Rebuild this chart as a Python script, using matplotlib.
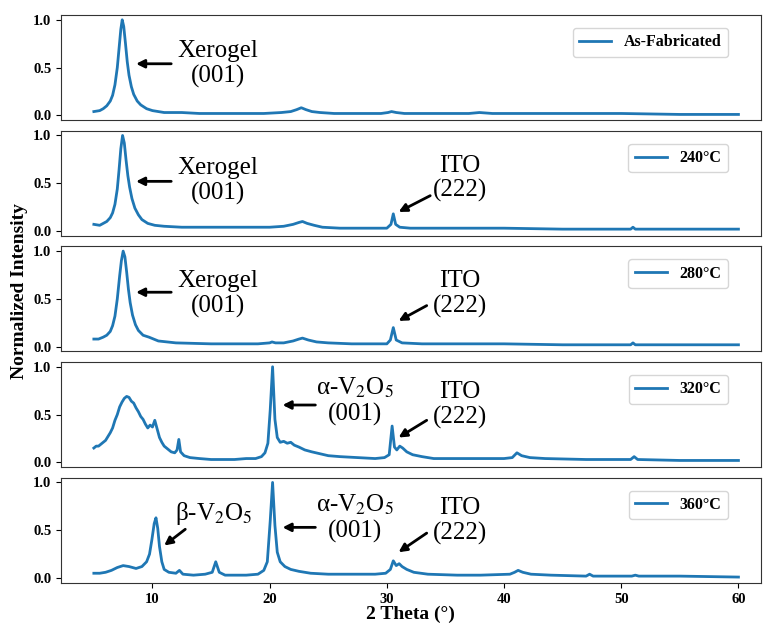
import matplotlib
matplotlib.use("Agg")
import matplotlib.pyplot as plt

plt.rcParams["font.family"] = ["Liberation Serif", "DejaVu Serif"]
plt.rcParams["mathtext.fontset"] = "stix"

# XRD patterns (2-theta in degrees, normalized intensity)
asfab_x = [5.0, 5.5, 5.8, 6.1, 6.4, 6.6, 6.8, 7.0, 7.15, 7.3, 7.42, 7.55, 7.7, 7.85, 8.0, 8.2, 8.4,
           8.7, 9.0, 9.5, 10.0, 11.0, 12.5, 14.0, 16.0, 18.0, 19.5, 21.0, 21.8, 22.3, 22.7, 23.1,
           23.6, 24.3, 25.5, 27.0, 29.5, 30.1, 30.4, 30.8, 31.5, 33.0, 35.0, 37.0, 37.9, 39.0,
           42.0, 46.0, 50.0, 55.0, 60.0]
asfab_y = [0.04, 0.05, 0.07, 0.10, 0.15, 0.21, 0.32, 0.50, 0.70, 0.90, 1.00, 0.93, 0.75, 0.56,
           0.42, 0.30, 0.22, 0.15, 0.11, 0.07, 0.05, 0.03, 0.03, 0.02, 0.02, 0.02, 0.02, 0.03,
           0.04, 0.06, 0.08, 0.06, 0.04, 0.03, 0.02, 0.02, 0.02, 0.03, 0.04, 0.03, 0.02, 0.02,
           0.02, 0.02, 0.03, 0.02, 0.02, 0.02, 0.02, 0.01, 0.01]

t240_x = [5.0, 5.5, 5.8, 6.1, 6.4, 6.6, 6.8, 7.0, 7.15, 7.3, 7.45, 7.6, 7.75, 7.9, 8.05, 8.25,
          8.5, 8.8, 9.1, 9.6, 10.2, 11.0, 12.5, 14.0, 16.0, 18.0, 20.0, 21.2, 22.0, 22.5, 22.8,
          23.2, 23.8, 24.5, 26.0, 28.0, 30.0, 30.35, 30.55, 30.75, 31.1, 32.0, 35.0, 38.0, 40.0,
          45.0, 50.8, 51.0, 51.2, 55.0, 60.0]
t240_y = [0.07, 0.06, 0.08, 0.10, 0.14, 0.19, 0.28, 0.44, 0.64, 0.86, 1.00, 0.92, 0.74, 0.58,
          0.46, 0.34, 0.24, 0.17, 0.12, 0.08, 0.06, 0.05, 0.04, 0.04, 0.04, 0.04, 0.04, 0.05,
          0.07, 0.09, 0.10, 0.08, 0.06, 0.04, 0.03, 0.03, 0.03, 0.07, 0.18, 0.07, 0.04, 0.03,
          0.03, 0.03, 0.03, 0.02, 0.02, 0.04, 0.02, 0.02, 0.02]

t280_x = [5.0, 5.4, 5.8, 6.1, 6.4, 6.6, 6.8, 7.0, 7.2, 7.35, 7.5, 7.65, 7.8, 7.95, 8.1, 8.3,
          8.55, 8.8, 9.2, 9.7, 10.5, 12.0, 15.0, 19.0, 20.0, 20.2, 20.5, 21.2, 22.0, 22.5, 22.8,
          23.3, 24.0, 25.0, 27.0, 30.0, 30.3, 30.55, 30.8, 31.3, 33.0, 36.0, 40.0, 45.0, 50.8,
          51.0, 51.2, 55.0, 60.0]
t280_y = [0.08, 0.08, 0.10, 0.12, 0.16, 0.22, 0.32, 0.50, 0.74, 0.90, 1.00, 0.94, 0.78, 0.60,
          0.46, 0.33, 0.23, 0.17, 0.12, 0.10, 0.06, 0.04, 0.03, 0.03, 0.04, 0.05, 0.04, 0.04,
          0.06, 0.08, 0.09, 0.07, 0.05, 0.04, 0.03, 0.03, 0.07, 0.20, 0.07, 0.04, 0.03, 0.03,
          0.03, 0.02, 0.02, 0.04, 0.02, 0.02, 0.02]

t320_x = [5.0, 5.2, 5.4, 5.6, 5.8, 6.0, 6.2, 6.4, 6.6, 6.8, 7.0, 7.2, 7.4, 7.6, 7.8, 8.0, 8.2,
          8.4, 8.6, 8.8, 9.0, 9.2, 9.4, 9.6, 9.8, 10.0, 10.2, 10.4, 10.6, 10.8, 11.0, 11.3, 11.6,
          11.9, 12.1, 12.25, 12.4, 12.7, 13.2, 14.0, 15.0, 16.0, 17.0, 18.0, 18.8, 19.3, 19.6,
          19.85, 20.05, 20.25, 20.45, 20.65, 20.9, 21.2, 21.5, 21.8, 22.1, 22.5, 23.0, 23.6, 24.3,
          25.0, 26.0, 27.5, 29.0, 29.8, 30.2, 30.45, 30.65, 30.85, 31.1, 31.35, 31.7, 32.2, 33.0,
          34.0, 36.0, 38.0, 40.0, 40.7, 41.1, 41.5, 42.2, 43.5, 47.0, 50.8, 51.1, 51.4, 55.0, 60.0]
t320_y = [0.15, 0.17, 0.17, 0.19, 0.21, 0.23, 0.27, 0.31, 0.36, 0.44, 0.50, 0.58, 0.63, 0.67,
          0.69, 0.68, 0.64, 0.62, 0.57, 0.53, 0.48, 0.45, 0.40, 0.36, 0.39, 0.37, 0.44, 0.35, 0.26,
          0.21, 0.17, 0.14, 0.11, 0.10, 0.13, 0.24, 0.11, 0.07, 0.05, 0.04, 0.03, 0.03, 0.03, 0.04,
          0.04, 0.06, 0.10, 0.20, 0.55, 1.00, 0.45, 0.26, 0.21, 0.22, 0.20, 0.21, 0.18, 0.16, 0.13,
          0.11, 0.09, 0.07, 0.06, 0.05, 0.04, 0.05, 0.08, 0.38, 0.16, 0.13, 0.17, 0.15, 0.11, 0.08,
          0.06, 0.04, 0.04, 0.04, 0.04, 0.05, 0.10, 0.07, 0.05, 0.04, 0.03, 0.03, 0.06, 0.03, 0.02,
          0.02]

t360_x = [5.0, 5.5, 6.0, 6.5, 7.0, 7.5, 8.0, 8.6, 9.1, 9.5, 9.75, 9.95, 10.15, 10.3, 10.45,
          10.6, 10.8, 11.0, 11.4, 12.0, 12.3, 12.6, 13.5, 14.5, 15.1, 15.4, 15.7, 16.2, 17.0, 18.0,
          19.0, 19.5, 19.8, 20.05, 20.25, 20.45, 20.65, 20.9, 21.3, 21.8, 22.5, 23.5, 25.0, 27.0,
          29.0, 29.9, 30.3, 30.55, 30.8, 31.05, 31.3, 31.7, 32.3, 33.5, 36.0, 38.0, 40.5, 40.9,
          41.2, 41.6, 42.3, 44.0, 47.0, 47.3, 47.6, 50.9, 51.2, 51.5, 55.0, 60.0]
t360_y = [0.05, 0.05, 0.06, 0.08, 0.11, 0.13, 0.12, 0.10, 0.12, 0.17, 0.25, 0.40, 0.57, 0.63,
          0.52, 0.33, 0.17, 0.09, 0.06, 0.05, 0.08, 0.04, 0.03, 0.04, 0.06, 0.17, 0.06, 0.03, 0.03,
          0.03, 0.04, 0.08, 0.17, 0.60, 1.00, 0.55, 0.27, 0.17, 0.12, 0.09, 0.07, 0.05, 0.04, 0.04,
          0.04, 0.05, 0.09, 0.18, 0.13, 0.15, 0.12, 0.09, 0.06, 0.04, 0.03, 0.03, 0.04, 0.06, 0.08,
          0.06, 0.04, 0.03, 0.02, 0.04, 0.02, 0.02, 0.03, 0.02, 0.02, 0.01]

labels = ["As-Fabricated", "240°C", "280°C", "320°C", "360°C"]
series = [(asfab_x, asfab_y), (t240_x, t240_y), (t280_x, t280_y), (t320_x, t320_y), (t360_x, t360_y)]

# peak annotations per panel: (text, text position, arrow tail, arrow tip)
xero = "Xerogel\n(001)"
ito = "ITO\n(222)"
alpha = "α-V$_2$O$_5$\n(001)"
beta = "β-V$_2$O$_5$"
notes = [
    [(xero, (15.6, 0.54), (11.6, 0.54), (8.6, 0.54))],
    [(xero, (15.6, 0.52), (11.6, 0.52), (8.6, 0.52)),
     (ito, (36.2, 0.55), (33.7, 0.37), (31.0, 0.20))],
    [(xero, (15.6, 0.55), (11.6, 0.57), (8.6, 0.57)),
     (ito, (36.2, 0.55), (33.4, 0.43), (31.0, 0.27))],
    [(alpha, (27.3, 0.64), (23.9, 0.60), (21.1, 0.60)),
     (ito, (36.2, 0.60), (33.4, 0.44), (31.0, 0.26))],
    [(beta, (15.2, 0.67), (12.8, 0.51), (11.0, 0.34)),
     (alpha, (27.3, 0.63), (23.9, 0.53), (21.1, 0.53)),
     (ito, (36.2, 0.60), (33.4, 0.47), (31.0, 0.27))],
]

fig = plt.figure(figsize=(7.63, 6.26), dpi=100)
axes = fig.subplots(5, 1, sharex=True)
fig.subplots_adjust(left=0.080, right=0.997, top=0.976, bottom=0.069, hspace=0.1)

for i, (ax, (x, y), lab, panel_notes) in enumerate(zip(axes, series, labels, notes)):
    ax.plot(x, y, color="#1f77b4", lw=2.0, label=lab)
    ax.set_xlim(2.2, 61.9)
    ax.set_ylim(-0.05, 1.05)
    ax.set_yticks([0.0, 0.5, 1.0])
    ax.set_yticklabels(["0.0", "0.5", "1.0"])
    for t in ax.get_yticklabels():
        t.set_fontweight("bold")
        t.set_fontsize(10.5)
    for sp in ax.spines.values():
        sp.set_color("0.2")
    if i < len(axes) - 1:
        ax.tick_params(axis="x", bottom=False)
    ax.legend(loc="upper right", bbox_to_anchor=(0.953, 0.876), borderaxespad=0,
              prop={"weight": "bold", "size": 11.5}, handlelength=2.0)
    for txt, tpos, tail, tip in panel_notes:
        ax.text(tpos[0], tpos[1], txt, ha="center", va="center", fontsize=18,
                linespacing=1.15)
        ax.annotate("", xy=tip, xytext=tail,
                    arrowprops=dict(arrowstyle="-|>", color="black", lw=2,
                                    mutation_scale=12, shrinkA=0, shrinkB=0))

axes[-1].set_xticks([10, 20, 30, 40, 50, 60])
for t in axes[-1].get_xticklabels():
    t.set_fontweight("bold")
    t.set_fontsize(10.5)
axes[-1].set_xlabel("2 Theta (°)", fontweight="bold", fontsize=14, labelpad=0)
fig.text(0.026, 0.535, "Normalized Intensity", rotation=90, ha="center", va="center",
         fontweight="bold", fontsize=14)

fig.savefig("out.png", dpi=100)
